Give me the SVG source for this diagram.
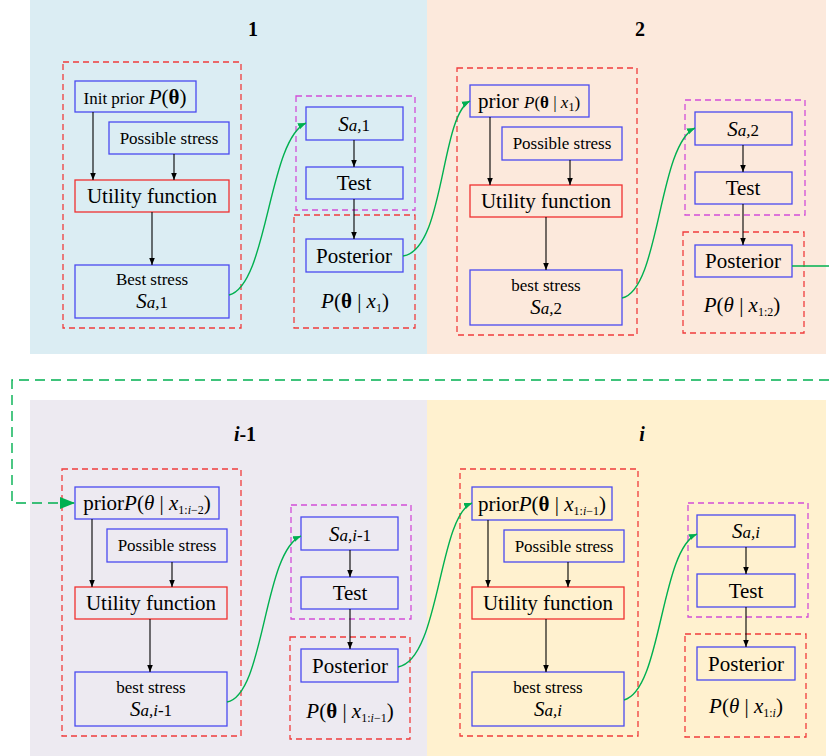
<svg xmlns="http://www.w3.org/2000/svg" width="829" height="756" viewBox="0 0 829 756" font-family="Liberation Serif, DejaVu Serif, Times New Roman, serif">
<defs>
<marker id="ab" viewBox="0 0 10 10" refX="10" refY="5" markerWidth="7" markerHeight="7" markerUnits="userSpaceOnUse" orient="auto"><path d="M0,1 L10,5 L0,9 z" fill="#000"/></marker>
<marker id="ag" viewBox="0 0 10 10" refX="10" refY="5" markerWidth="8" markerHeight="8" markerUnits="userSpaceOnUse" orient="auto"><path d="M0,1 L10,5 L0,9 z" fill="#00b050"/></marker>
<marker id="agb" viewBox="0 0 10 10" refX="10" refY="5" markerWidth="15" markerHeight="15" markerUnits="userSpaceOnUse" orient="auto"><path d="M0,1 L10,5 L0,9 z" fill="#00b050"/></marker>
</defs>
<style>
text{font-family:'Liberation Serif','DejaVu Serif','Times New Roman',serif;fill:#000;text-anchor:middle}
.b{fill:none;stroke:#4a4af0;stroke-width:1.3}
.r{fill:none;stroke:#f03030;stroke-width:1.3}
.rd{fill:none;stroke:#f03c3c;stroke-width:1.3;stroke-dasharray:6,4}
.md{fill:none;stroke:#d24ed8;stroke-width:1.3;stroke-dasharray:6,4}
.k{fill:none;stroke:#000;stroke-width:1.1;marker-end:url(#ab)}
.g{fill:none;stroke:#00b050;stroke-width:1.4;marker-end:url(#ag)}
.big{font-size:21px}
.sm{font-size:17px}
.t{font-size:20px;font-weight:bold}
.i{font-style:italic}
.bo{font-weight:bold}
.sub{font-size:12px}
</style>
<g id="panels">
<rect x="30" y="0" width="397" height="354" fill="#dbedf3"/>
<rect x="427" y="0" width="399" height="354" fill="#fce9dc"/>
<rect x="30" y="400" width="397" height="356" fill="#edeaf1"/>
<rect x="427" y="400" width="399" height="356" fill="#fff1cf"/>
<text class="t" x="253" y="36">1</text>
<text class="t" x="640" y="36">2</text>
<text class="t" x="245" y="441"><tspan class="i">i</tspan>-1</text>
<text class="t" x="642" y="441"><tspan class="i">i</tspan></text>
</g>
<g id="groups">
<rect class="rd" x="63" y="62" width="178" height="266"/>
<rect class="md" x="296" y="96" width="119" height="114"/>
<rect class="rd" x="294" y="215" width="121" height="113"/>
<rect class="rd" x="457" y="68" width="180" height="267"/>
<rect class="md" x="685" y="100" width="120" height="115"/>
<rect class="rd" x="683" y="232" width="121" height="101"/>
<rect class="rd" x="62" y="469" width="179" height="267"/>
<rect class="md" x="291" y="505" width="120" height="114"/>
<rect class="rd" x="290" y="637" width="120" height="102"/>
<rect class="rd" x="460" y="469" width="178" height="267"/>
<rect class="md" x="688" y="503" width="120" height="114"/>
<rect class="rd" x="685" y="634" width="121" height="103"/>
</g>
<!-- Panel 1 -->
<g id="p1-prior"><rect class="b" x="75" y="81" width="121" height="31"/><text x="135" y="104"><tspan class="sm">Init prior </tspan><tspan class="big i">P</tspan><tspan class="big">(</tspan><tspan class="big bo">θ</tspan><tspan class="big">)</tspan></text></g>
<g id="p1-possible"><rect class="b" x="109" y="122" width="120" height="32"/><text class="sm" x="169" y="144">Possible stress</text></g>
<g id="p1-utility"><rect class="r" x="75" y="180" width="154" height="32"/><text class="big" x="152" y="203">Utility function</text></g>
<g id="p1-best"><rect class="b" x="75" y="265" width="154" height="53"/><text class="sm" x="152" y="285">Best stress</text><text x="152" y="308"><tspan class="big i">S</tspan><tspan class="sm i">a,</tspan><tspan class="sm">1</tspan></text></g>
<g id="p1-s"><rect class="b" x="306" y="107" width="97" height="33"/><text x="354" y="131"><tspan class="big i">S</tspan><tspan class="sm i">a,</tspan><tspan class="sm">1</tspan></text></g>
<g id="p1-test"><rect class="b" x="306" y="167" width="97" height="32"/><text class="big" x="354" y="190">Test</text></g>
<g id="p1-post"><rect class="b" x="306" y="239" width="97" height="33"/><text class="big" x="354" y="263">Posterior</text></g>
<g id="p1-postlabel"><text class="big" x="355" y="308"><tspan class="i">P</tspan>(<tspan class="bo">θ</tspan> | <tspan class="i">x</tspan><tspan class="sub" dy="4">1</tspan><tspan dy="-4">)</tspan></text></g>
<!-- Panel 2 -->
<g id="p2-prior"><rect class="b" x="470" y="85" width="119" height="32"/><text x="529" y="108"><tspan class="big">prior </tspan><tspan class="sm i">P</tspan><tspan class="sm">(</tspan><tspan class="sm bo">θ</tspan><tspan class="sm"> | </tspan><tspan class="sm i">x</tspan><tspan class="sub" dy="3">1</tspan><tspan class="sm" dy="-3">)</tspan></text></g>
<g id="p2-possible"><rect class="b" x="502" y="127" width="120" height="33"/><text class="sm" x="562" y="149">Possible stress</text></g>
<g id="p2-utility"><rect class="r" x="470" y="185" width="152" height="32"/><text class="big" x="546" y="208">Utility function</text></g>
<g id="p2-best"><rect class="b" x="470" y="270" width="152" height="55"/><text class="sm" x="546" y="291">best stress</text><text x="546" y="314"><tspan class="big i">S</tspan><tspan class="sm i">a,</tspan><tspan class="sm">2</tspan></text></g>
<g id="p2-s"><rect class="b" x="695" y="112" width="97" height="33"/><text x="743" y="136"><tspan class="big i">S</tspan><tspan class="sm i">a,</tspan><tspan class="sm">2</tspan></text></g>
<g id="p2-test"><rect class="b" x="695" y="172" width="97" height="32"/><text class="big" x="743" y="195">Test</text></g>
<g id="p2-post"><rect class="b" x="695" y="245" width="97" height="32"/><text class="big" x="743" y="268">Posterior</text></g>
<g id="p2-postlabel"><text class="big" x="742" y="312"><tspan class="i">P</tspan>(<tspan class="i">θ</tspan> | <tspan class="i">x</tspan><tspan class="sub" dy="4">1:2</tspan><tspan dy="-4">)</tspan></text></g>
<!-- Panel i-1 -->
<g id="pim1-prior"><rect class="b" x="75" y="487" width="144" height="32"/><text x="147" y="510"><tspan class="big">prior</tspan><tspan class="big i">P</tspan><tspan class="big">(</tspan><tspan class="big i">θ</tspan><tspan class="big"> | </tspan><tspan class="big i">x</tspan><tspan class="sub" dy="4">1:<tspan class="i">i</tspan>−2</tspan><tspan class="big" dy="-4">)</tspan></text></g>
<g id="pim1-possible"><rect class="b" x="107" y="529" width="120" height="33"/><text class="sm" x="167" y="551">Possible stress</text></g>
<g id="pim1-utility"><rect class="r" x="75" y="587" width="152" height="32"/><text class="big" x="151" y="610">Utility function</text></g>
<g id="pim1-best"><rect class="b" x="75" y="672" width="152" height="54"/><text class="sm" x="151" y="693">best stress</text><text x="151" y="716"><tspan class="big i">S</tspan><tspan class="sm i">a,i</tspan><tspan class="sm">-1</tspan></text></g>
<g id="pim1-s"><rect class="b" x="301" y="517" width="97" height="33"/><text x="350" y="541"><tspan class="big i">S</tspan><tspan class="sm i">a,i</tspan><tspan class="sm">-1</tspan></text></g>
<g id="pim1-test"><rect class="b" x="301" y="577" width="97" height="32"/><text class="big" x="350" y="600">Test</text></g>
<g id="pim1-post"><rect class="b" x="301" y="649" width="97" height="33"/><text class="big" x="350" y="673">Posterior</text></g>
<g id="pim1-postlabel"><text class="big" x="350" y="718"><tspan class="i">P</tspan>(<tspan class="bo">θ</tspan> | <tspan class="i">x</tspan><tspan class="sub" dy="4">1:<tspan class="i">i</tspan>−1</tspan><tspan dy="-4">)</tspan></text></g>
<!-- Panel i -->
<g id="pi-prior"><rect class="b" x="472" y="487" width="140" height="33"/><text x="542" y="511"><tspan class="big">prior</tspan><tspan class="big i">P</tspan><tspan class="big">(</tspan><tspan class="big bo">θ</tspan><tspan class="big"> | </tspan><tspan class="big i">x</tspan><tspan class="sub" dy="4">1:<tspan class="i">i</tspan>−1</tspan><tspan class="big" dy="-4">)</tspan></text></g>
<g id="pi-possible"><rect class="b" x="504" y="530" width="120" height="32"/><text class="sm" x="564" y="552">Possible stress</text></g>
<g id="pi-utility"><rect class="r" x="472" y="587" width="152" height="32"/><text class="big" x="548" y="610">Utility function</text></g>
<g id="pi-best"><rect class="b" x="472" y="672" width="152" height="54"/><text class="sm" x="548" y="693">best stress</text><text x="548" y="716"><tspan class="big i">S</tspan><tspan class="sm i">a,i</tspan></text></g>
<g id="pi-s"><rect class="b" x="697" y="515" width="98" height="32"/><text x="746" y="538"><tspan class="big i">S</tspan><tspan class="sm i">a,i</tspan></text></g>
<g id="pi-test"><rect class="b" x="697" y="574" width="98" height="33"/><text class="big" x="746" y="598">Test</text></g>
<g id="pi-post"><rect class="b" x="697" y="647" width="98" height="33"/><text class="big" x="746" y="671">Posterior</text></g>
<g id="pi-postlabel"><text class="big" x="746" y="713"><tspan class="i">P</tspan>(<tspan class="i">θ</tspan> | <tspan class="i">x</tspan><tspan class="sub" dy="4">1:<tspan class="i">i</tspan></tspan><tspan dy="-4">)</tspan></text></g>
<g id="connectors">
<path class="k" d="M93,112 V180"/><path class="k" d="M174,154 V180"/><path class="k" d="M152,212 V265"/>
<path class="k" d="M354,140 V167"/><path class="k" d="M354,199 V239"/>
<path class="k" d="M490,117 V185"/><path class="k" d="M570,160 V185"/><path class="k" d="M546,217 V270"/>
<path class="k" d="M743,145 V172"/><path class="k" d="M743,204 V245"/>
<path class="k" d="M92,519 V587"/><path class="k" d="M172,562 V587"/><path class="k" d="M150,619 V672"/>
<path class="k" d="M350,550 V577"/><path class="k" d="M350,609 V649"/>
<path class="k" d="M488,520 V587"/><path class="k" d="M568,562 V587"/><path class="k" d="M546,619 V672"/>
<path class="k" d="M746,547 V574"/><path class="k" d="M746,607 V647"/>
<path class="g" d="M229,295 C268,285 268,140 306,123"/>
<path class="g" d="M403,256 C445,250 440,116 470,101"/>
<path class="g" d="M622,298 C660,290 658,145 695,128"/>
<path class="g" d="M227,702 C265,695 263,552 301,536"/>
<path class="g" d="M398,667 C440,660 438,517 472,503"/>
<path class="g" d="M624,700 C662,690 660,550 697,534"/>
<path d="M792,266 H829" fill="none" stroke="#00b050" stroke-width="1.4"/>
<path d="M829,380 H12 V503 H75" fill="none" stroke="#00b050" stroke-width="1.4" stroke-dasharray="10,6" marker-end="url(#agb)"/>
</g>
</svg>
